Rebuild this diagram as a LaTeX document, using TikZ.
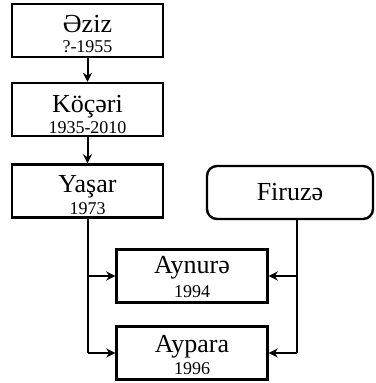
\documentclass[tikz,border=0pt]{standalone}
\usepackage{fontspec}
\setmainfont{Liberation Serif}
\usetikzlibrary{arrows.meta}
\tikzset{
  person/.style={draw, line width=2.4pt, minimum width=151pt, minimum height=53pt, inner sep=0pt},
  spouse/.style={draw, line width=2.4pt, rounded corners=10pt, minimum width=166pt, minimum height=53pt, inner sep=0pt, font=\fontsize{26}{26}\selectfont},
  pname/.style={anchor=base, inner sep=0pt, font=\fontsize{26}{26}\selectfont},
  pyear/.style={anchor=base, inner sep=0pt, font=\fontsize{18}{18}\selectfont},
  link/.style={line width=2pt, -{Stealth[length=9pt,width=9pt]}},
  trunk/.style={line width=2pt}
}
\begin{document}
\begin{tikzpicture}[x=1pt,y=-1pt]
\useasboundingbox (0,0) rectangle (375,383);
\node[person] (a) at (87.5,30.5) {};
\node[pname] (an) at (87.5,32) {Əziz};
\node[pyear] (ay) at (87.5,52) {?-1955};
\node[person] (k) at (87.5,109.5) {};
\node[pname] (kn) at (87.5,112) {Köçəri};
\node[pyear] (ky) at (87.5,133) {1935-2010};
\node[person] (y) at (87.5,191) {};
\node[pname] (yn) at (87.5,192) {Yaşar};
\node[pyear] (yy) at (87.5,214) {1973};
\node[spouse] (f) at (290,192.5) {Firuzə};
\node[person] (n) at (192,276) {};
\node[pname] (nn) at (192,273) {Aynurə};
\node[pyear] (ny) at (192,297) {1994};
\node[person] (p) at (192,353) {};
\node[pname] (pn) at (192,352) {Aypara};
\node[pyear] (py) at (192,374) {1996};
\draw[link] (a) -- (k);
\draw[link] (k) -- (y);
\coordinate (ft) at (297,0);
\draw[trunk] (y.south) -- (y.south |- p.west);
\draw[link] (y.south |- n.west) -- (n.west);
\draw[link] (y.south |- p.west) -- (p.west);
\draw[trunk] (ft |- f.south) -- (ft |- p.east);
\draw[link] (ft |- n.east) -- (n.east);
\draw[link] (ft |- p.east) -- (p.east);
\end{tikzpicture}
\end{document}
